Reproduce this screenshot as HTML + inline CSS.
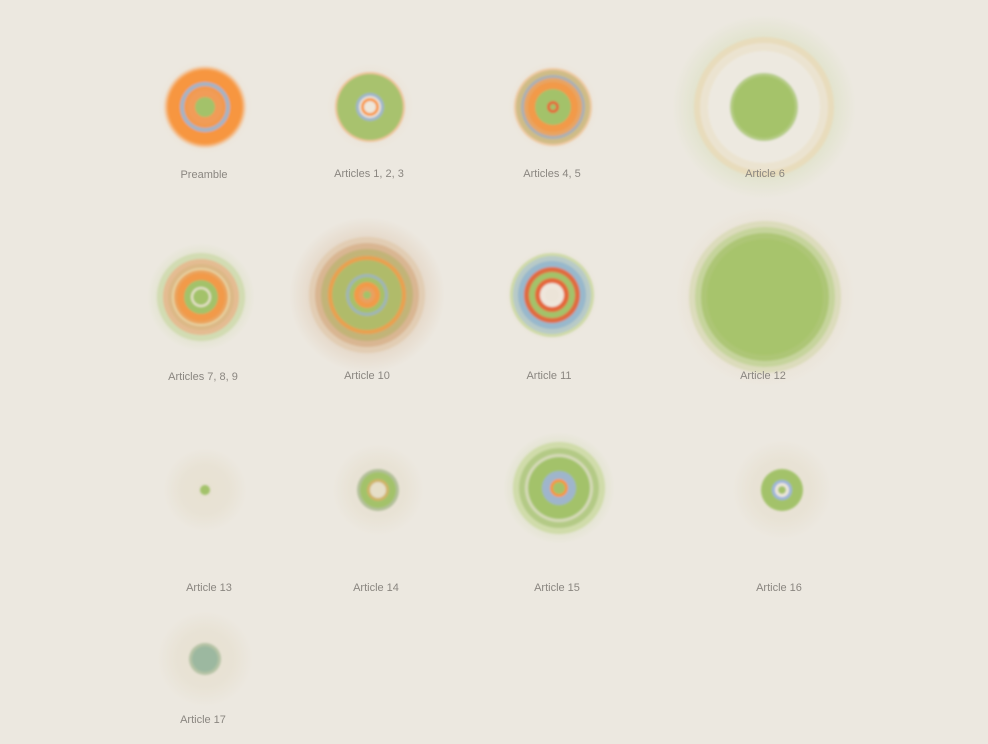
<!DOCTYPE html>
<html><head><meta charset="utf-8"><style>
html,body{margin:0;padding:0;background:#ece8e0;}
svg{display:block;}
text{font-family:"Liberation Sans",sans-serif;font-size:11px;fill:#8a8680;}
</style></head><body>
<svg id="chart" width="988" height="744" viewBox="0 0 988 744"></svg>
<script>
const names=["Preamble","Articles 1, 2, 3","Articles 4, 5","Article 6","Articles 7, 8, 9","Article 10","Article 11","Article 12","Article 13","Article 14","Article 15","Article 16","Article 17"];
const cols=[205,370,553,764,201,367,552,765,205,378,559,782,205];
const rowsY=[107,107,107,107,297,295,295,297,490,490,488,490,659];
const labelX=[204,369,552,765,203,367,549,763,209,376,557,779,203];
const labelY=[178,177,177,177,380,379,379,379,591,591,591,591,723];
const haloR=[48,44,46,92,54,78,48,90,42,46,56,50,48];
const haloColor=["#e8dcc8","#e8dcc8","#e8dcc8","#c8d8a0","#c8d8a0","#d8b898","#e4dcc8","#e4d4b8","#e4dcc8","#e4dcc8","#c8d8a0","#e4dcc8","#e4dcc8"];
const rings=[
 [[41,"#f1cfae"],[39,"#f5aa62"],[37,"#f7963f"],[25,"#a3b4c6"],[21,"#f29a50"],[17,"#f19c58"],[10,"#a3c26a"]],
 [[35,"#f0c49c"],[33,"#a8c26e"],[14,"#9fb5cc"],[11,"#eee6da"],[9,"#f7963f"],[6,"#eee6da"]],
 [[39,"#f0caa4"],[37,"#cfbc86"],[32,"#a9b0b5"],[29,"#e8a462"],[25,"#f29a4a"],[18,"#a3c26a"],[6,"#e4683a"],[3,"#a3c26a"]],
 [[70,"#e8dcbc"],[64,"#ebe3d0"],[56,"#ede9e0"],[34,"#b5cc85"],[31,"#a5c36a"]],
 [[44,"#d2dcb2"],[38,"#e4bc92"],[33,"#dcb886"],[29,"#e8d4a2"],[27,"#eaa45e"],[24,"#f29a4a"],[17,"#a3c26a"],[10,"#ece4d0"],[8,"#a3c26a"]],
 [[58,"#e2cdb4"],[52,"#d9b692"],[46,"#c2b478"],[39,"#eaa050"],[35,"#b0bb6a"],[21,"#9fb5b8"],[18,"#a8c068"],[13,"#f29a4a"],[8,"#e8a060"],[4,"#a3c26a"]],
 [[42,"#cfdaa8"],[39,"#b8cac8"],[34,"#98b8cc"],[28,"#e06c40"],[23,"#a3c26a"],[17,"#e4683a"],[12,"#eee6dc"],[7,"#ece4d8"]],
 [[76,"#dcdcbc"],[70,"#c6d49c"],[64,"#adc676"],[58,"#a7c46c"]],
 [[5,"#a3c26a"]],
 [[21,"#b3c09a"],[18,"#a3c26a"],[11,"#d0b468"],[8,"#e6dfc8"]],
 [[46,"#d0dcaa"],[40,"#b4ca86"],[34,"#d6dab8"],[31,"#a3c26a"],[17,"#9fb5cc"],[9,"#f7963f"],[6,"#a3c26a"]],
 [[21,"#a3c26a"],[10,"#9fb5dc"],[7,"#efe8dc"],[4,"#a3c26a"]],
 [[16,"#b5c3a5"],[13,"#9cb8a0"]]
];
const NS="http://www.w3.org/2000/svg";
const svg=document.getElementById('chart');
const defs=document.createElementNS(NS,'defs');svg.appendChild(defs);
defs.innerHTML='<filter id="soft" x="-20%" y="-20%" width="140%" height="140%"><feGaussianBlur stdDeviation="1"/></filter>';
names.forEach((n,i)=>{
 const g=document.createElementNS(NS,'g');
 
 
 const gr=document.createElementNS(NS,'radialGradient');gr.setAttribute('id','h'+i);
 gr.innerHTML='<stop offset="0" stop-color="'+haloColor[i]+'" stop-opacity="0.6"/><stop offset="0.6" stop-color="'+haloColor[i]+'" stop-opacity="0.45"/><stop offset="1" stop-color="'+haloColor[i]+'" stop-opacity="0"/>';
 defs.appendChild(gr);
 const h=document.createElementNS(NS,'circle');
 h.setAttribute('cx',cols[i]);h.setAttribute('cy',rowsY[i]);h.setAttribute('r',haloR[i]);h.setAttribute('fill','url(#h'+i+')');
 
 
 g.appendChild(h);
 const rg=document.createElementNS(NS,'g');
 rg.setAttribute('filter','url(#soft)');
 
 
 rings[i].forEach(rc=>{
  const c=document.createElementNS(NS,'circle');
  c.setAttribute('cx',cols[i]);c.setAttribute('cy',rowsY[i]);c.setAttribute('r',rc[0]);c.setAttribute('fill',rc[1]);
  
  
  rg.appendChild(c);
 });
 g.appendChild(rg);
 const t=document.createElementNS(NS,'text');
 t.setAttribute('x',labelX[i]);t.setAttribute('y',labelY[i]);t.setAttribute('text-anchor','middle');t.textContent=n;
 
 
 g.appendChild(t);
 svg.appendChild(g);
});
</script>
</body></html>
